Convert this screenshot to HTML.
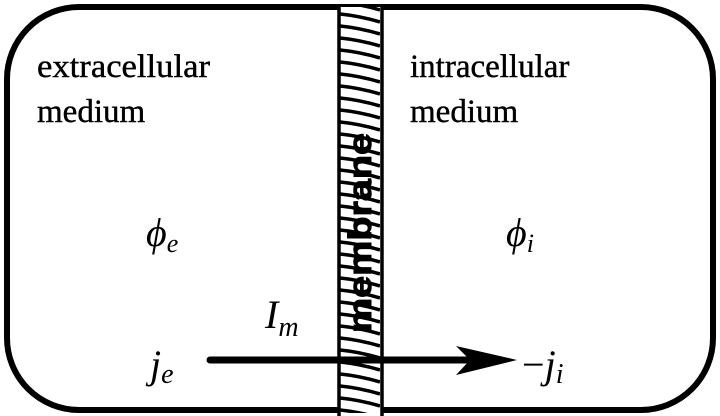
<!DOCTYPE html>
<html><head><style>body{margin:0;background:#fff}svg{display:block}</style></head><body>
<svg width="720" height="416" viewBox="0 0 720 416" xmlns="http://www.w3.org/2000/svg">
<defs>
<pattern id="h" x="340" y="0" width="40" height="12" patternUnits="userSpaceOnUse">
<path d="M0 2 Q20 4 40 10" stroke="#000" stroke-width="3.5" fill="none"/>
</pattern>
</defs>
<rect x="7" y="7" width="706" height="403" rx="72" ry="72" fill="none" stroke="#000" stroke-width="6"/>
<rect x="338" y="7" width="44" height="406" fill="#fff"/>
<rect x="340" y="7" width="40" height="406" fill="url(#h)"/>
<line x1="339" y1="5" x2="339" y2="416" stroke="#000" stroke-width="3.5"/>
<line x1="382" y1="5" x2="382" y2="416" stroke="#000" stroke-width="3.5"/>
<text transform="translate(371,233) rotate(-90)" text-anchor="middle" textLength="200" lengthAdjust="spacingAndGlyphs" font-family="Liberation Sans, sans-serif" font-weight="bold" font-size="32" fill="#000" stroke="#000" stroke-width="1">membrane</text>
<g font-family="Liberation Serif, serif" font-size="33" fill="#000" stroke="#000" stroke-width="0.4">
<text x="37" y="77" textLength="173" lengthAdjust="spacingAndGlyphs">extracellular</text>
<text x="37" y="122">medium</text>
<text x="410" y="77">intracellular</text>
<text x="410" y="122">medium</text>
</g>
<g font-family="Liberation Serif, serif" font-style="italic" fill="#000">
<text x="146" y="246" font-size="40">ϕ<tspan font-size="26" dy="6">e</tspan></text>
<text x="506" y="246" font-size="40">ϕ<tspan font-size="26" dy="6">i</tspan></text>
<text x="265" y="328" font-size="40">I<tspan font-size="28" dy="8">m</tspan></text>
<text x="150" y="378" font-size="40">j<tspan font-size="28" dy="5">e</tspan></text>
<text x="522" y="378" font-size="40"><tspan font-style="normal">−</tspan>j<tspan font-size="28" dy="5">i</tspan></text>
</g>
<line x1="210" y1="360" x2="495" y2="360" stroke="#000" stroke-width="7" stroke-linecap="round"/>
<path d="M456 346 L517 360 L456 375 L470 360 Z" fill="#000"/>
</svg>
</body></html>
